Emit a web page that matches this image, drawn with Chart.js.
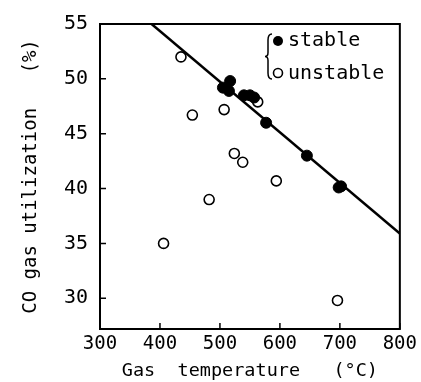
<!DOCTYPE html>
<html>
<head>
<meta charset="utf-8">
<script src="https://cdn.jsdelivr.net/npm/chart.js@4.4.1/dist/chart.umd.min.js"></script>
<style>
  html, body { margin: 0; padding: 0; background: #fff; }
  #wrap { width: 421px; height: 382px; }
</style>
</head>
<body>
<div id="wrap"><canvas id="Chart1"></canvas></div>
<script>
// data
const stableTemp = [505, 515, 517, 540, 550, 557, 577, 645, 698, 702];
const stableUtil = [49.2, 48.9, 49.8, 48.5, 48.5, 48.3, 46.0, 43.0, 40.1, 40.2];
const unstableTemp = [435, 454, 507, 524, 538, 563, 482, 406, 594, 696];
const unstableUtil = [52.0, 46.7, 47.2, 43.2, 42.4, 47.9, 39.0, 35.0, 40.7, 29.8];
const fitTemp = [386, 800];
const fitUtil = [55.0, 35.9];
const xTicks = [300, 400, 500, 600, 700, 800];
const yTicks = [30, 35, 40, 45, 50, 55];

const toPoints = (xs, ys) => xs.map((x, i) => ({ x: x, y: ys[i] }));
const FONT = "'DejaVu Sans Mono', 'Liberation Mono', monospace";

// box around plot area, inward tick marks, legend with brace
const framePlugin = {
    id: "frame",
    afterDatasetsDraw(chart) {
        const { ctx, chartArea: a, scales } = chart;
        ctx.save();
        ctx.strokeStyle = "#000";
        ctx.lineWidth = 2;
        ctx.strokeRect(a.left, a.top, a.right - a.left, a.bottom - a.top);

        ctx.lineWidth = 1.5;
        ctx.beginPath();
        scales.y.ticks.forEach((t) => {
            const py = scales.y.getPixelForValue(t.value);
            ctx.moveTo(a.left, py);
            ctx.lineTo(a.left + 6, py);
        });
        scales.x.ticks.forEach((t) => {
            const px = scales.x.getPixelForValue(t.value);
            ctx.moveTo(px, a.bottom);
            ctx.lineTo(px, a.bottom - 6);
        });
        ctx.stroke();

        // legend
        const lx = 278, ly1 = 41, ly2 = 73;
        ctx.fillStyle = "#000";
        ctx.beginPath();
        ctx.arc(lx, ly1, 5, 0, Math.PI * 2);
        ctx.fill();
        ctx.lineWidth = 1.6;
        ctx.beginPath();
        ctx.arc(lx, ly2, 4.5, 0, Math.PI * 2);
        ctx.stroke();

        // brace
        const bx = 268, top = 34, bot = 79, mid = (top + bot) / 2;
        ctx.lineWidth = 1.5;
        ctx.beginPath();
        ctx.moveTo(bx + 4, top);
        ctx.quadraticCurveTo(bx, top, bx, top + 6);
        ctx.lineTo(bx, mid - 4);
        ctx.quadraticCurveTo(bx, mid, bx - 3, mid);
        ctx.quadraticCurveTo(bx, mid, bx, mid + 4);
        ctx.lineTo(bx, bot - 6);
        ctx.quadraticCurveTo(bx, bot, bx + 4, bot);
        ctx.stroke();

        ctx.font = "20px " + FONT;
        ctx.textBaseline = "middle";
        ctx.textAlign = "left";
        ctx.fillText("stable", 288, ly1);
        ctx.fillText("unstable", 288, ly2 + 1);
        ctx.restore();
    },
};

const ctx1 = document.getElementById("Chart1").getContext("2d");
const chart1 = new Chart(ctx1, {
    type: "scatter",
    data: {
        datasets: [
            {
                label: "fit",
                type: "line",
                data: toPoints(fitTemp, fitUtil),
                borderColor: "#000",
                borderWidth: 2.5,
                pointRadius: 0,
                fill: false,
            },
            {
                label: "stable",
                data: toPoints(stableTemp, stableUtil),
                backgroundColor: "#000",
                borderColor: "#000",
                borderWidth: 1,
                pointRadius: 5.5,
            },
            {
                label: "unstable",
                data: toPoints(unstableTemp, unstableUtil),
                backgroundColor: "#fff",
                borderColor: "#000",
                borderWidth: 1.6,
                pointRadius: 5,
            },
        ],
    },
    options: {
        responsive: true,
        maintainAspectRatio: false,
        animation: false,
        layout: {
            padding: { top: 16, right: 21, bottom: 0, left: 0 },
        },
        plugins: {
            legend: { display: false },
            tooltip: { enabled: false },
        },
        scales: {
            x: {
                type: "linear",
                min: 300,
                max: 800,
                afterBuildTicks: (s) => { s.ticks = xTicks.map((v) => ({ value: v })); },
                afterFit: (s) => { s.height = 53; },
                grid: { display: false, drawTicks: false },
                border: { display: false },
                ticks: {
                    padding: 4,
                    color: "#000",
                    font: { family: FONT, size: 19 },
                },
                title: {
                    display: true,
                    text: "Gas  temperature   (\u00B0C)",
                    color: "#000",
                    font: { family: FONT, size: 18.5 },
                    padding: { top: 0, bottom: 0 },
                },
            },
            y: {
                min: 27.2,
                max: 55,
                afterBuildTicks: (s) => { s.ticks = yTicks.map((v) => ({ value: v })); },
                afterFit: (s) => { s.width = 100; },
                grid: { display: false, drawTicks: false },
                border: { display: false },
                ticks: {
                    padding: 12,
                    color: "#000",
                    font: { family: FONT, size: 20 },
                },
                title: {
                    display: true,
                    text: "CO gas utilization   (%)",
                    color: "#000",
                    font: { family: FONT, size: 19 },
                    padding: { top: 20, bottom: 0 },
                },
            },
        },
    },
    plugins: [framePlugin],
});
</script>
</body>
</html>
